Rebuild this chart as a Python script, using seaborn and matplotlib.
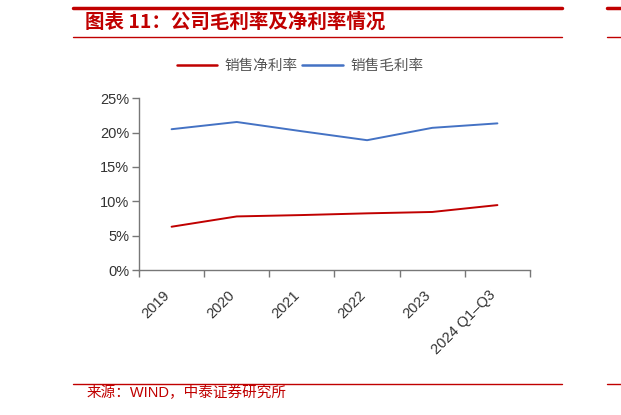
import matplotlib
matplotlib.use("Agg")
import matplotlib.pyplot as plt
from matplotlib.lines import Line2D
import matplotlib.transforms as mtransforms
import seaborn as sns
import pandas as pd
import numpy as np

categories = ["2019", "2020", "2021", "2022", "2023", "2024 Q1\u2013Q3"]
net_margin = [6.3, 7.8, 8.0, 8.25, 8.45, 9.45]
gross_margin = [20.5, 21.55, 20.2, 18.9, 20.7, 21.35]
series_names = ["销售净利率", "销售毛利率"]
yticks = [0, 5, 10, 15, 20, 25]

RED = "#C00000"
BLUE = "#4472C4"

sns.set_theme(style="white")
plt.rcParams['font.family'] = ['Liberation Sans', 'Noto Sans CJK SC', 'DejaVu Sans']

df = pd.DataFrame({
    "pos": list(range(len(categories))) * 2,
    "value": net_margin + gross_margin,
    "series": [series_names[0]] * len(categories) + [series_names[1]] * len(categories),
})

fig = plt.figure(figsize=(6.21, 4.15), dpi=100)
ax = fig.add_axes([139/621, 1-270/415, (530-139)/621, (270-98.3)/415])

sns.lineplot(data=df, x="pos", y="value", hue="series",
             palette={series_names[0]: RED, series_names[1]: BLUE},
             linewidth=1.4, ax=ax, legend=False)

n = len(categories)
ax.set_xlim(-0.5, n - 0.5)
ax.set_ylim(0, 25)
ax.set_yticks(yticks)
ax.set_yticklabels([f"{v}%" for v in yticks], fontsize=10.5, color="#333333")
ax.set_xticks(np.arange(-0.5, n, 1.0))
ax.set_xticklabels([])
ax.set_xticks(np.arange(n), minor=True)
ax.set_xticklabels(categories, minor=True, rotation=45, ha="right", va="center",
                   rotation_mode="anchor", fontsize=10.5, color="#333333")
ax.tick_params(axis="x", which="major", direction="out", length=5, width=1, color="#777777", bottom=True)
ax.tick_params(axis="x", which="minor", length=0, pad=16.5)
ax.tick_params(axis="y", direction="out", length=5, width=1, color="#777777", left=True, pad=2)
offset = mtransforms.ScaledTranslation(-4/100, 0, fig.dpi_scale_trans)
for lbl in ax.get_xticklabels(minor=True):
    lbl.set_transform(lbl.get_transform() + offset)
ax.set_xlabel("")
ax.set_ylabel("")
for s in ["top", "right"]:
    ax.spines[s].set_visible(False)
for s in ["left", "bottom"]:
    ax.spines[s].set_color("#777777")
    ax.spines[s].set_linewidth(1.0)
ax.grid(False)

handles = [Line2D([0], [0], color=RED, lw=1.8), Line2D([0], [0], color=BLUE, lw=1.8)]
leg = fig.legend(handles, series_names, loc="center", bbox_to_anchor=(300/621, 1-66/415),
                 ncol=2, frameon=False, handlelength=2.8, handletextpad=0.5, columnspacing=0.3,
                 prop={"family": ["Noto Sans CJK SC"], "size": 10.5})
for t in leg.get_texts():
    t.set_color("#555555")

# header decorations
fig.add_artist(Line2D([73/621, 562/621], [1-8/415, 1-8/415], color=RED, lw=2.5))
fig.add_artist(Line2D([607/621, 1.0], [1-8/415, 1-8/415], color=RED, lw=2.5))
fig.add_artist(Line2D([73/621, 562/621], [1-37.3/415, 1-37.3/415], color=RED, lw=1.0))
fig.add_artist(Line2D([607/621, 1.0], [1-37.3/415, 1-37.3/415], color=RED, lw=1.0))
fig.text(85/621, 1-22/415, "图表 11：公司毛利率及净利率情况", color=RED, fontsize=14,
         fontweight="bold", fontstyle="italic", va="center", ha="left",
         family=["Noto Sans CJK SC", "DejaVu Sans"])

# footer
fig.add_artist(Line2D([73/621, 562/621], [1-384.3/415, 1-384.3/415], color=RED, lw=1.0))
fig.add_artist(Line2D([607/621, 1.0], [1-384.3/415, 1-384.3/415], color=RED, lw=1.0))
fig.text(87/621, 1-393/415, "来源：WIND，中泰证券研究所", color=RED, fontsize=10.5,
         va="center", ha="left", family=["Liberation Sans", "Noto Sans CJK SC", "DejaVu Sans"])

fig.savefig("out.png", dpi=100)
